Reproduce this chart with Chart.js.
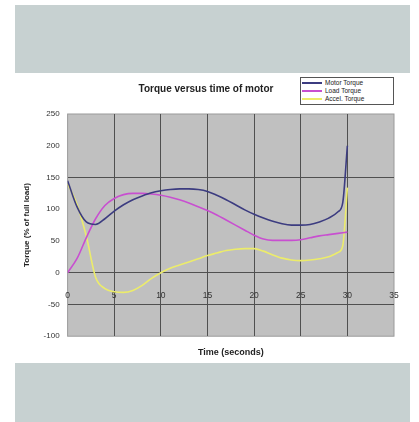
<!DOCTYPE html>
<html>
<head>
<meta charset="utf-8">
<title>Torque versus time of motor</title>
<script src="https://cdn.jsdelivr.net/npm/chart.js@4.4.1/dist/chart.umd.min.js"></script>
<style>
    body { margin: 0; background: #fff; font-family: "Liberation Sans", Arial, sans-serif; }
    #wrap { position: relative; width: 419px; height: 422px; }
    #torque-chart { position: absolute; left: 0; top: 0; }
    .banner { position: absolute; left: 15px; width: 395px; background: #c7d1d1; }
    #legend {
        position: absolute; left: 300px; top: 77px; width: 90px;
        border: 1px solid #555; background: #fff; padding: 1px 1px;
        font-size: 6.5px; line-height: 8px; color: #222;
    }
    #legend .item { display: flex; align-items: center; white-space: nowrap; }
    #legend .swatch { width: 20px; height: 1.5px; margin-right: 3px; }
</style>
</head>
<body>
<div id="wrap">
    <div class="banner" style="top:5px;height:68px"></div>
    <canvas id="torque-chart" width="419" height="422"></canvas>
    <div class="banner" style="top:363px;height:59px"></div>
    <div id="legend"></div>
</div>
<script>
// Values
const times = [0, 1, 2, 3, 4, 5, 6, 7, 8, 9, 10, 11, 12, 13, 14, 15, 16, 17, 18, 19, 20,
    21, 22, 23, 24, 25, 26, 27, 28, 29, 29.5, 30];
const motorTorque = [145, 104, 80, 76, 85, 97, 107, 115, 121, 126, 129, 131, 132, 132, 131, 128,
    122, 115, 107, 99, 92, 86, 81, 77, 75, 75, 76, 80, 86, 96, 110, 200];
const loadTorque = [0, 22, 55, 85, 106, 117, 123, 125, 125, 124, 122, 119, 115, 110, 104, 98,
    91, 83, 75, 67, 59, 53, 51, 51, 51, 52, 55, 58, 60, 62, 63, 64];
const accelTorque = [140, 108, 58, -7, -25, -30, -31, -28, -20, -9, 0, 7, 12, 17, 22, 27,
    31, 35, 37, 38, 38, 34, 28, 23, 20, 19, 20, 22, 25, 32, 42, 134];
const seriesNames = ["Motor Torque", "Load Torque", "Accel. Torque"];
const seriesColors = ["#3c3c80", "#c84fd0", "#ecec6a"];
const yTicks = { min: -100, max: 250, step: 50 };
const xTicks = { min: 0, max: 35, step: 5 };
const darkRows = [150, 0, -50]; // only these horizontal lines are drawn in the reference

document.addEventListener("DOMContentLoaded", function () {
    const toPoints = (vals) => times.map((t, i) => ({ x: t, y: vals[i] }));
    const allSeries = [motorTorque, loadTorque, accelTorque];

    const datasets = allSeries.map((vals, i) => ({
        label: seriesNames[i],
        data: toPoints(vals),
        borderColor: seriesColors[i],
        backgroundColor: seriesColors[i],
        borderWidth: 1.6,
        pointRadius: 0,
        cubicInterpolationMode: "monotone",
        xAxisID: "x",
        yAxisID: "y"
    }));

    // Grey plot background
    const plotBackground = {
        id: "plotBackground",
        beforeDraw(chart) {
            const { ctx, chartArea: a } = chart;
            ctx.save();
            ctx.fillStyle = "#c0c0c0";
            ctx.fillRect(a.left, a.top, a.right - a.left, a.bottom - a.top);
            ctx.strokeStyle = "#9a9a9a";
            ctx.lineWidth = 1;
            ctx.strokeRect(a.left, a.top, a.right - a.left, a.bottom - a.top);
            ctx.restore();
        }
    };

    const ctx = document.getElementById("torque-chart").getContext("2d");
    const chart = new Chart(ctx, {
        type: "line",
        data: { datasets: datasets },
        plugins: [plotBackground],
        options: {
            responsive: false,
            animation: false,
            layout: { padding: { left: 18, right: 25, top: 83, bottom: 64 } },
            plugins: {
                legend: { display: false },
                tooltip: { enabled: false },
                title: {
                    display: true,
                    text: "Torque versus time of motor",
                    color: "#222",
                    font: { family: "Liberation Sans", size: 10, weight: "bold" },
                    padding: { top: 0, bottom: 19 }
                }
            },
            scales: {
                x: {
                    type: "linear",
                    position: "bottom",
                    min: xTicks.min,
                    max: xTicks.max,
                    ticks: { display: false, stepSize: xTicks.step },
                    grid: {
                        drawTicks: false,
                        color: (c) => (c.tick.value > xTicks.min && c.tick.value < xTicks.max) ? "#505050" : "transparent"
                    },
                    border: { display: false },
                    title: {
                        display: true,
                        text: "Time (seconds)",
                        color: "#222",
                        font: { family: "Liberation Sans", size: 9, weight: "bold" },
                        padding: { top: 11, bottom: 0 }
                    }
                },
                x2: {
                    type: "linear",
                    position: { y: 0 },
                    min: xTicks.min,
                    max: xTicks.max,
                    grid: { display: false },
                    border: { display: false },
                    ticks: {
                        stepSize: xTicks.step,
                        padding: 10,
                        color: "#333",
                        font: { family: "Liberation Sans", size: 8.5 }
                    }
                },
                y: {
                    type: "linear",
                    min: yTicks.min,
                    max: yTicks.max,
                    ticks: {
                        stepSize: yTicks.step,
                        padding: 8,
                        color: "#333",
                        font: { family: "Liberation Sans", size: 8 }
                    },
                    grid: {
                        drawTicks: false,
                        color: (c) => darkRows.includes(c.tick.value) ? "#505050" : "transparent"
                    },
                    border: { display: false },
                    title: {
                        display: true,
                        text: "Torque (% of full load)",
                        color: "#222",
                        font: { family: "Liberation Sans", size: 8, weight: "bold" },
                        padding: { top: 4, bottom: 4 }
                    }
                }
            }
        }
    });

    // Small boxed legend in the top right corner
    const legendBox = document.getElementById("legend");
    chart.data.datasets.forEach((ds) => {
        const item = document.createElement("div");
        item.className = "item";
        const sw = document.createElement("span");
        sw.className = "swatch";
        sw.style.background = ds.borderColor;
        const txt = document.createElement("span");
        txt.textContent = ds.label;
        item.appendChild(sw);
        item.appendChild(txt);
        legendBox.appendChild(item);
    });
});
</script>
</body>
</html>
